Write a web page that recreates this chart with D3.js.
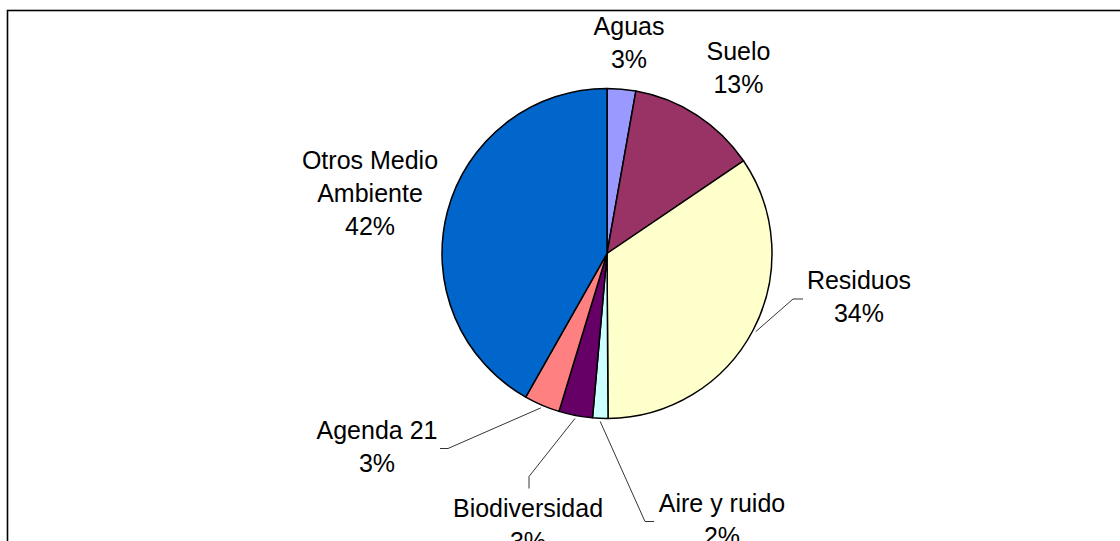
<!DOCTYPE html>
<html>
<head>
<meta charset="utf-8">
<script src="https://cdn.jsdelivr.net/npm/d3@7"></script>
<style>
  body { margin: 0; background: #fff; }
  svg { display: block; }
</style>
</head>
<body>
<div id="wrapper"></div>
<script>
const categories = ["Aguas", "Suelo", "Residuos", "Aire y ruido", "Biodiversidad", "Agenda 21", "Otros Medio Ambiente"]
const values = [2.8, 12.7, 34.4, 1.5, 3.3, 3.5, 41.8]
const percentLabels = ["3%", "13%", "34%", "2%", "3%", "3%", "42%"]
const labelLines = [["Aguas"], ["Suelo"], ["Residuos"], ["Aire y ruido"], ["Biodiversidad"], ["Agenda 21"], ["Otros Medio", "Ambiente"]]
const colors = ["#9999FF", "#993366", "#FFFFCC", "#CCFFFF", "#660066", "#FF8080", "#0066CC"]

// label placement, relative to pie centre (first line centre)
const labelPos = [[22, -227], [131.5, -202], [252, 27], [115, 250], [-79, 255], [-230, 177], [-237, -93]]
// leader lines: elbow + end, relative to pie centre (null = no leader)
const leaders = [null, null, [[186, 45.5], [196, 45.5]], [[38, 268], [47, 268]], [[-78, 223], [-78, 235]], [[-159, 195], [-167, 195]], null]

async function drawPie() {
  const dimensions = { width: 1120, height: 541 }
  const cx = 607, cy = 253.5, radius = 165
  const lineH = 33

  const wrapper = d3.select("#wrapper")
    .append("svg")
      .attr("width", dimensions.width)
      .attr("height", dimensions.height)
      .style("font-family", "Arial, 'Liberation Sans', sans-serif")

  wrapper.append("rect")
    .attr("x", 7.5)
    .attr("y", 10.5)
    .attr("width", 1300)
    .attr("height", 700)
    .attr("fill", "none")
    .attr("stroke", "black")
    .attr("stroke-width", 1.6)

  const bounds = wrapper.append("g")
    .attr("transform", `translate(${cx}, ${cy})`)

  const pieGenerator = d3.pie().sort(null).value(d => d)
  const arcs = pieGenerator(values)
  const arcGenerator = d3.arc().innerRadius(0).outerRadius(radius)

  bounds.selectAll("path.slice")
    .data(arcs)
    .join("path")
      .attr("class", "slice")
      .attr("d", arcGenerator)
      .attr("fill", (d, i) => colors[i])
      .attr("stroke", "black")
      .attr("stroke-width", 1.5)
      .attr("stroke-linejoin", "round")

  // leader lines
  arcs.forEach((d, i) => {
    if (!leaders[i]) return
    const mid = (d.startAngle + d.endAngle) / 2
    const start = [Math.sin(mid) * (radius + 3), -Math.cos(mid) * (radius + 3)]
    const pts = [start, leaders[i][0], leaders[i][1]]
    bounds.append("path")
      .attr("d", d3.line()(pts))
      .attr("fill", "none")
      .attr("stroke", "black")
      .attr("stroke-width", 0.8)
  })

  // labels
  arcs.forEach((d, i) => {
    const lines = labelLines[i].concat([percentLabels[i]])
    const text = bounds.append("text")
      .attr("text-anchor", "middle")
      .attr("fill", "black")
      .style("font-size", "25px")
    lines.forEach((l, j) => {
      text.append("tspan")
        .attr("x", labelPos[i][0])
        .attr("y", labelPos[i][1] + j * lineH)
        .attr("dy", "0.35em")
        .text(l)
    })
  })
}

drawPie()
</script>
</body>
</html>
